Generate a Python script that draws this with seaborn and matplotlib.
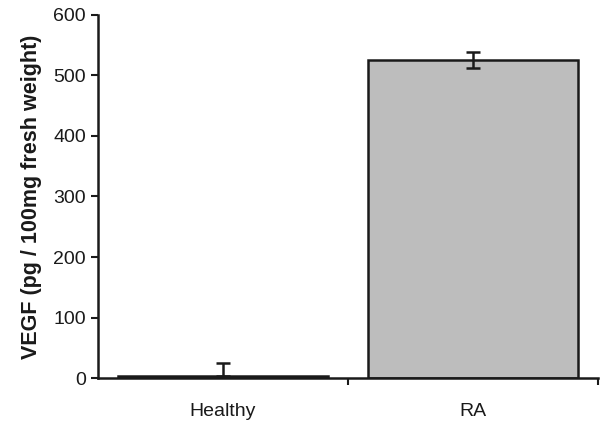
import numpy as np
import pandas as pd
import matplotlib
matplotlib.use("Agg")
import matplotlib.pyplot as plt
import seaborn as sns

groups = ["Healthy", "RA"]
vegf = [3, 525]
err_low = [0, 13]
err_high = [22, 13]

sns.set_style("ticks")
plt.rcParams["font.family"] = ["Liberation Sans", "DejaVu Sans"]

df = pd.DataFrame({"group": groups, "vegf": vegf})

fig = plt.figure(figsize=(6, 4.23), dpi=100)
ax = fig.add_axes([0.163, 0.106, 0.834, 0.859])

sns.barplot(data=df, x="group", y="vegf", color="#bdbdbd", width=0.84,
            edgecolor="#1a1a1a", linewidth=1.8, saturation=1, ax=ax)
ax.errorbar(range(len(groups)), vegf, yerr=[err_low, err_high], fmt="none",
            ecolor="#1a1a1a", elinewidth=1.8, capsize=5, capthick=1.8)

ax.set_xlim(-0.5, 1.5)
ax.set_ylim(0, 600)
ax.set_yticks([0, 100, 200, 300, 400, 500, 600])
ax.set_xticks([0.5, 1.5], minor=True)
ax.tick_params(axis="x", which="major", length=0, pad=18, labelsize=14, colors="#1a1a1a")
ax.tick_params(axis="x", which="minor", length=5, width=1.5, color="#1a1a1a")
ax.tick_params(axis="y", length=5, width=1.5, labelsize=14, color="#1a1a1a", labelcolor="#1a1a1a")
ax.set_xlabel("")
ax.set_ylabel("VEGF (pg / 100mg fresh weight)", fontsize=15.5, fontweight="bold",
              color="#1a1a1a", labelpad=8)
for s in ["left", "bottom"]:
    ax.spines[s].set_linewidth(1.8)
    ax.spines[s].set_color("#1a1a1a")
sns.despine(ax=ax)

fig.savefig("out.png", dpi=100)
